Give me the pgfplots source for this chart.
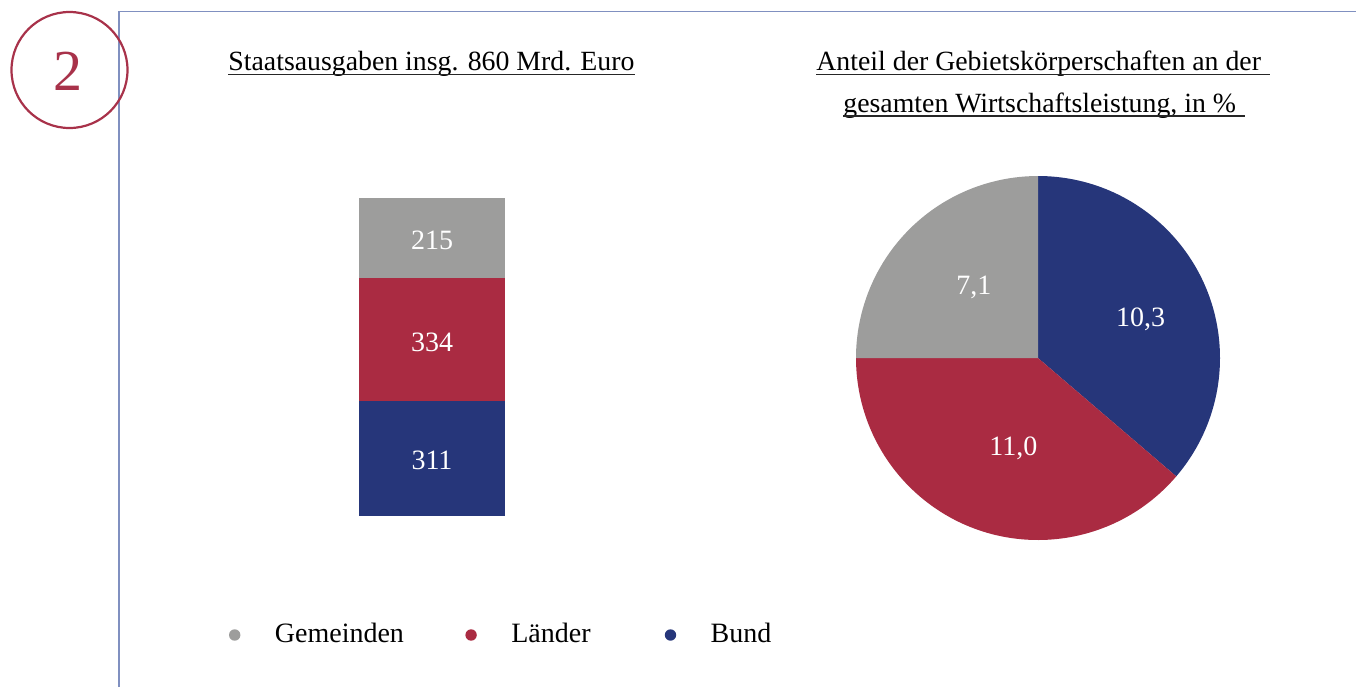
\documentclass[border=0pt]{standalone}
\usepackage{fontspec}
\setmainfont{Liberation Serif}
\usepackage{pgfplots}
\usepackage{pgfplotstable}
\pgfplotsset{compat=1.18}
\definecolor{bund}{HTML}{26367A}
\definecolor{laender}{HTML}{AA2B42}
\definecolor{gem}{HTML}{9D9D9C}
\definecolor{framec}{HTML}{8090C0}
\definecolor{numred}{HTML}{A8324A}

\pgfplotstableread{
name value
Bund 10.3
Laender 11.0
Gemeinden 7.1
}\pietable

\begin{document}%
\fontsize{14pt}{20.5pt}\selectfont%
\pgfplotstablegetelem{0}{value}\of\pietable\let\vB\pgfplotsretval%
\pgfplotstablegetelem{1}{value}\of\pietable\let\vL\pgfplotsretval%
\pgfplotstablegetelem{2}{value}\of\pietable\let\vG\pgfplotsretval%
\pgfmathsetmacro\total{\vB+\vL+\vG}%
\pgfmathsetmacro\aB{90-360*\vB/\total}%
\pgfmathsetmacro\aL{\aB-360*\vL/\total}%
\pgfmathsetmacro\aG{\aL-360*\vG/\total}%
\begin{tikzpicture}
\begin{scope}[x=0.5pt,y=-0.5pt]
\draw[framec, line width=0.65pt] (119,687) -- (119,11.7) -- (1356,11.7);
\draw[numred, line width=1.1pt] (69.5,70) circle[radius=29pt];
\node[numred, anchor=base, inner sep=0pt, font=\fontsize{29pt}{30pt}\selectfont] at (68,90.7) {2};
\node[anchor=base west, inner sep=0pt, font=\fontsize{13.9pt}{20.5pt}\selectfont] (t1) at (228,70.7) {Staatsausgaben insg. 860 Mrd. Euro};
\node[anchor=base west, inner sep=0pt, font=\fontsize{13.9pt}{20.5pt}\selectfont] (t2) at (816,70.7) {Anteil der Gebietskörperschaften an der};
\node[anchor=base west, inner sep=0pt, font=\fontsize{13.9pt}{20.5pt}\selectfont] (t3) at (843,112.5) {gesamten Wirtschaftsleistung, in \%};
\draw[line width=0.65pt, black!85] ([yshift=-1.8pt]t1.base west) -- ([yshift=-1.8pt]t1.base east);
\draw[line width=0.65pt, black!85] ([yshift=-1.8pt]t2.base west) -- ([yshift=-1.8pt,xshift=4.5pt]t2.base east);
\draw[line width=0.65pt, black!85] ([yshift=-1.8pt]t3.base west) -- ([yshift=-1.8pt,xshift=4.5pt]t3.base east);
\end{scope}

\begin{axis}[at={(179.5pt,-258pt)}, anchor=south west, scale only axis,
  width=73pt, height=159pt, xmin=0, xmax=1, ymin=0, ymax=860,
  hide axis, ybar stacked, bar width=73pt,
  legend image code/.code={\fill[#1] (0pt,0pt) circle[radius=2.85pt];},
  reverse legend,
  legend columns=3,
  legend style={draw=none, fill=none, inner sep=0pt, outer sep=0pt,
    at={(axis description cs:-0.8904,-0.3742)}, anchor=west,
    nodes={inner sep=0pt},
    /tikz/every odd column/.append style={column sep=17.25pt}},
]
\addplot[fill=bund, draw=none] coordinates {(0.5,311)};
\addlegendentry[text width=40pt]{Bund}
\addplot[fill=laender, draw=none] coordinates {(0.5,334)};
\addlegendentry[text width=76.75pt]{Länder}
\addplot[fill=gem, draw=none] coordinates {(0.5,215)};
\addlegendentry[text width=95.25pt]{Gemeinden}
\coordinate (lb1) at (axis cs:0.5,126.3);
\coordinate (lb2) at (axis cs:0.5,446.2);
\coordinate (lb3) at (axis cs:0.5,722.1);
\end{axis}
\node[white, anchor=base, inner sep=0pt] at (lb1) {311};
\node[white, anchor=base, inner sep=0pt] at (lb2) {334};
\node[white, anchor=base, inner sep=0pt] at (lb3) {215};

\begin{axis}[at={(428pt,-270pt)}, anchor=south west, scale only axis,
  width=182pt, height=182pt, xmin=-1, xmax=1, ymin=-1, ymax=1,
  hide axis, clip=false]
\fill[bund] (axis cs:0,0) -- ++(90:91pt) arc[start angle=90, end angle=\aB, radius=91pt] -- cycle;
\fill[laender] (axis cs:0,0) -- ++(\aB:91pt) arc[start angle=\aB, end angle=\aL, radius=91pt] -- cycle;
\fill[gem] (axis cs:0,0) -- ++(\aL:91pt) arc[start angle=\aL, end angle=\aG, radius=91pt] -- cycle;
\node[white, anchor=base, inner sep=0pt] at (axis cs:0.5643,0.172) {10,3};
\node[white, anchor=base, inner sep=0pt] at (axis cs:-0.1352,-0.5368) {11,0};
\node[white, anchor=base, inner sep=0pt] at (axis cs:-0.3527,0.35) {7,1};
\end{axis}
\pgfresetboundingbox
\path[use as bounding box] (0pt,0pt) rectangle (678pt,-343.5pt);
\end{tikzpicture}%
\end{document}
